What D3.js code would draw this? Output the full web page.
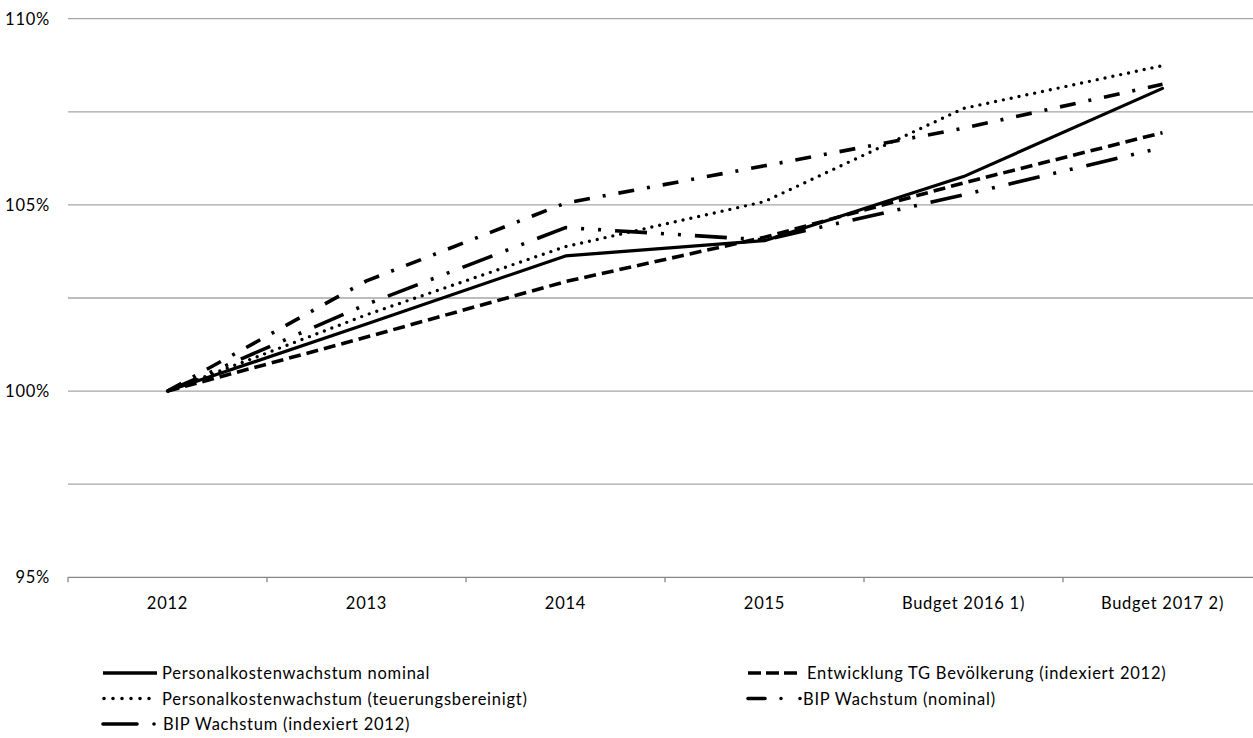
<!DOCTYPE html>
<html>
<head>
<meta charset="utf-8">
<script src="https://cdn.jsdelivr.net/npm/d3@7"></script>
<style>
  html, body { margin: 0; padding: 0; background: #fff; }
  svg { display: block; }
  text { font-family: Lato, "Open Sans", sans-serif; fill: #000; letter-spacing: 0.75px; }
</style>
</head>
<body>
<svg id="chart" width="1253" height="738"></svg>
<script>
const categories = ["2012", "2013", "2014", "2015", "Budget 2016 1)", "Budget 2017 2)"];
const nominal    = [100, 101.80, 103.63, 104.04, 105.76, 108.13];
const teuerung   = [100, 102.05, 103.88, 105.09, 107.59, 108.74];
const bevoelk    = [100, 101.45, 102.94, 104.13, 105.59, 106.94];
const bipNominal = [100, 102.96, 105.05, 106.05, 107.06, 108.24];
const bipIndex   = [100, 102.33, 104.39, 104.06, 105.27, 106.54];
const yTicks      = [95, 97.5, 100, 102.5, 105, 107.5, 110];
const yTickLabels = [95, 100, 105, 110];

const seriesNames = [
  "Personalkostenwachstum nominal",
  "Entwicklung TG Bevölkerung (indexiert 2012)",
  "Personalkostenwachstum (teuerungsbereinigt)",
  "BIP Wachstum (nominal)",
  "BIP Wachstum (indexiert 2012)"
];
const seriesValues = [nominal, bevoelk, teuerung, bipNominal, bipIndex];

const styles = [
  { dash: null, cap: "round", w: 3.2 },
  { dash: "12,6", cap: "butt", w: 3.6 },
  { dash: "0,8", cap: "round", w: 3.4 },
  { dash: "16,13,3,13", cap: "butt", w: 3.6 },
  { dash: "32,14,3,14,3,14", cap: "butt", w: 3.6 }
];

const svg = d3.select("#chart");
const mLeft = 68, mRight = 1262, mTop = 18.7, mBottom = 577.3;
const fs = 16.5;

const x = d3.scaleBand().domain(categories).range([mLeft, mRight]);
const y = d3.scaleLinear().domain([95, 110]).range([mBottom, mTop]);

// gridlines
svg.append("g").selectAll("line").data(yTicks.filter(d => d !== 95)).join("line")
  .attr("x1", mLeft).attr("x2", 1253)
  .attr("y1", d => y(d)).attr("y2", d => y(d))
  .attr("stroke", "#a6a6a6").attr("stroke-width", 1.3);

// y labels
svg.append("g").selectAll("text").data(yTickLabels).join("text")
  .attr("x", 50).attr("y", d => y(d))
  .attr("text-anchor", "end").attr("dominant-baseline", "central")
  .attr("font-size", fs)
  .text(d => d + "%");

// x axis
const gx = svg.append("g").attr("transform", `translate(0,${mBottom})`);
gx.append("line").attr("x1", mLeft).attr("x2", 1253).attr("y1", 0).attr("y2", 0)
  .attr("stroke", "#868686").attr("stroke-width", 1.3);
const bounds = categories.map(c => x(c));
gx.selectAll("line.tk").data(bounds).join("line").attr("class", "tk")
  .attr("x1", d => d).attr("x2", d => d).attr("y1", 0).attr("y2", 5)
  .attr("stroke", "#868686").attr("stroke-width", 1.3);
gx.selectAll("text").data(categories).join("text")
  .attr("x", d => x(d) + x.bandwidth() / 2).attr("y", 26)
  .attr("text-anchor", "middle").attr("dominant-baseline", "central")
  .attr("font-size", fs)
  .text(d => d);

// lines
const line = d3.line()
  .x((d, i) => x(categories[i]) + x.bandwidth() / 2)
  .y(d => y(d));

svg.append("g").selectAll("path").data(seriesValues).join("path")
  .attr("d", d => line(d))
  .attr("fill", "none").attr("stroke", "#000")
  .attr("stroke-width", (d, i) => styles[i].w)
  .attr("stroke-dasharray", (d, i) => styles[i].dash)
  .attr("stroke-linecap", (d, i) => styles[i].cap)
  .attr("stroke-linejoin", "round");

// legend
const legendPos = [
  { lx: 103, tx: 162, y: 673, len: 54, dash: null, cap: "butt" },
  { lx: 748, tx: 807, y: 673, len: 50, dash: "13,5", cap: "butt" },
  { lx: 104, tx: 162, y: 698.5, len: 46, dash: "0,9", cap: "round" },
  { lx: 748, tx: 803, y: 698.5, len: 54, dash: "17,16,0,19,0,40", cap: "round" },
  { lx: 103, tx: 163, y: 724, len: 52, dash: "34,17,0,40", cap: "round" }
];
const lg = svg.append("g");
seriesNames.forEach((name, i) => {
  const p = legendPos[i];
  lg.append("line")
    .attr("x1", p.lx).attr("x2", p.lx + p.len)
    .attr("y1", p.y).attr("y2", p.y)
    .attr("stroke", "#000").attr("stroke-width", 3.6)
    .attr("stroke-dasharray", p.dash)
    .attr("stroke-linecap", p.cap);
  lg.append("text")
    .attr("x", p.tx).attr("y", p.y)
    .attr("dominant-baseline", "central")
    .attr("font-size", fs)
    .text(name);
});
</script>
</body>
</html>
